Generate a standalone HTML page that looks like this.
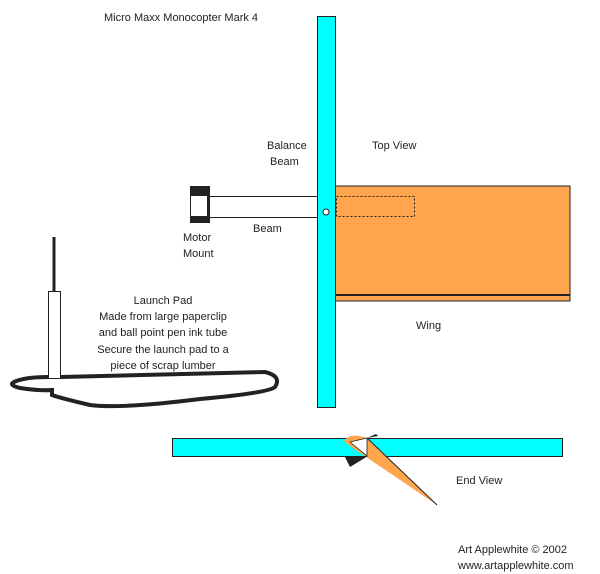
<!DOCTYPE html>
<html><head><style>body{margin:0;background:#fff}svg{display:block}text{font-family:"Liberation Sans",sans-serif;font-size:11px;fill:#222}</style></head><body>
<svg width="600" height="574" viewBox="0 0 600 574">
<text x="104" y="21">Micro Maxx Monocopter Mark 4</text>
<rect x="335" y="186" width="235" height="115" fill="#ffa54d" stroke="#222" stroke-width="1"/>
<line x1="335" y1="295" x2="570" y2="295" stroke="#222" stroke-width="2"/>
<rect x="336.5" y="196.5" width="78" height="20" fill="none" stroke="#222" stroke-dasharray="2,2"/>
<rect x="208.5" y="196.5" width="109" height="21" fill="#fff" stroke="#222"/>
<rect x="190" y="186" width="20" height="37" fill="#222"/>
<rect x="191" y="196" width="16" height="20" fill="#fff"/>
<rect x="317.5" y="16.5" width="18" height="391" fill="#00ffff" stroke="#222"/>
<circle cx="326" cy="212" r="3" fill="#fff" stroke="#222"/>
<text x="267" y="149">Balance</text><text x="270" y="165">Beam</text>
<text x="372" y="149">Top View</text>
<text x="183" y="241">Motor</text><text x="183" y="257">Mount</text>
<text x="253" y="232">Beam</text>
<text x="416" y="329">Wing</text>
<rect x="172.5" y="438.5" width="390" height="18" fill="#00ffff" stroke="#222"/>
<path d="M344 441 Q350 432 367 438 L437 505 L350 446 Z" fill="#ffa54d"/>
<path d="M350 442 L367 438 L367 456 Z" fill="#fff" stroke="#222" stroke-width="0.8"/>
<path d="M367 438 L376 434 L378 436 Z" fill="#222"/>
<path d="M345 457 L368 456 L350 467 Z" fill="#222"/>
<line x1="367" y1="438" x2="437" y2="505" stroke="#222"/>
<text x="456" y="484">End View</text>
<line x1="54" y1="237" x2="54" y2="291" stroke="#222" stroke-width="3"/>
<rect x="48.5" y="291.5" width="12" height="87" fill="#fff" stroke="#222"/>
<path d="M61 377 L265 372 Q282 376 275 387 Q268 393 200 399 Q120 409 90 405 Q60 398 52 395 L52 390 Q40 391 20 388 Q8 385 14 382 Q25 377 48 377" fill="none" stroke="#222" stroke-width="4"/>
<g text-anchor="middle"><text x="163" y="304">Launch Pad</text><text x="163" y="320">Made from large paperclip</text><text x="163" y="336">and ball point pen ink tube</text><text x="163" y="353">Secure the launch pad to a</text><text x="163" y="369">piece of scrap lumber</text></g>
<text x="458" y="553">Art Applewhite © 2002</text>
<text x="458" y="569">www.artapplewhite.com</text>
</svg></body></html>
